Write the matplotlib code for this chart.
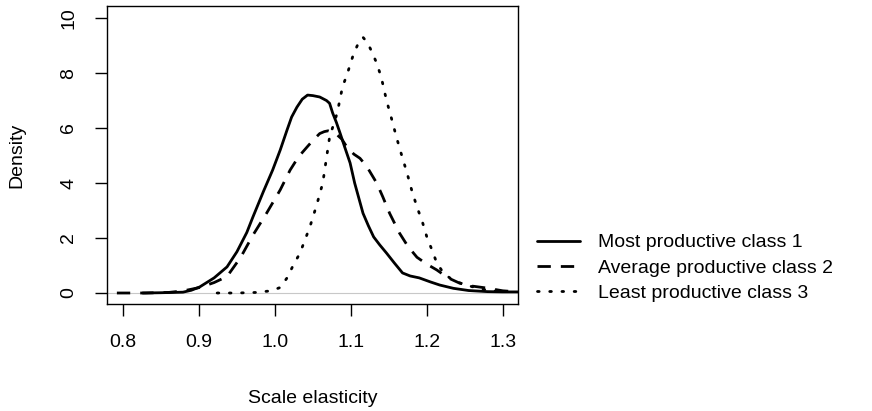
import matplotlib
matplotlib.use("Agg")
import matplotlib.pyplot as plt

plt.rcParams['font.family'] = ['Liberation Sans', 'DejaVu Sans']

# Class 1: most productive (solid)
x1 = [0.826, 0.85, 0.879, 0.89, 0.901, 0.92, 0.937, 0.95, 0.963, 0.971, 0.985, 0.997, 1.007,
      1.016, 1.022, 1.029, 1.036, 1.043, 1.05, 1.059, 1.068, 1.072, 1.076, 1.081, 1.086, 1.092,
      1.099, 1.105, 1.116, 1.123, 1.13, 1.138, 1.147, 1.157, 1.168, 1.178, 1.19, 1.205, 1.217,
      1.235, 1.255, 1.28, 1.3, 1.32]
y1 = [0.0, 0.01, 0.03, 0.1, 0.22, 0.55, 0.95, 1.5, 2.2, 2.76, 3.7, 4.47, 5.2,
      5.93, 6.4, 6.76, 7.05, 7.2, 7.18, 7.13, 7.0, 6.9, 6.55, 6.2, 5.8, 5.3,
      4.73, 4.0, 2.9, 2.45, 2.04, 1.75, 1.45, 1.1, 0.73, 0.62, 0.55, 0.4, 0.29,
      0.17, 0.09, 0.05, 0.04, 0.04]

# Class 2: average productive (dashed)
x2 = [0.792, 0.83, 0.86, 0.88, 0.901, 0.92, 0.937, 0.955, 0.971, 0.989, 1.007, 1.02,
      1.031, 1.042, 1.05, 1.059, 1.065, 1.07, 1.08, 1.088, 1.095, 1.104, 1.112, 1.121,
      1.134, 1.142, 1.151, 1.164, 1.175, 1.187, 1.2, 1.213, 1.228, 1.243, 1.26, 1.279,
      1.3, 1.32]
y2 = [0.0, 0.0, 0.02, 0.08, 0.2, 0.38, 0.6, 1.3, 2.1, 2.9, 3.75, 4.47,
      4.95, 5.3, 5.55, 5.8, 5.87, 5.9, 5.8, 5.6, 5.3, 5.05, 4.9, 4.6,
      4.0, 3.5, 2.9, 2.18, 1.7, 1.3, 1.05, 0.84, 0.55, 0.36, 0.25, 0.18,
      0.08, 0.04]

# Class 3: least productive (dotted)
x3 = [0.924, 0.95, 0.975, 0.995, 1.007, 1.016, 1.024, 1.033, 1.046, 1.055, 1.063, 1.072,
      1.082, 1.089, 1.095, 1.103, 1.11, 1.116, 1.122, 1.128, 1.134, 1.14, 1.147, 1.153,
      1.16, 1.167, 1.174, 1.18, 1.187, 1.194, 1.2, 1.207, 1.213, 1.222, 1.234, 1.248,
      1.261, 1.28, 1.3]
y3 = [0.0, 0.0, 0.02, 0.08, 0.2, 0.55, 1.0, 1.45, 2.4, 3.2, 4.0, 5.67,
      6.55, 7.5, 7.95, 8.65, 9.1, 9.3, 9.1, 8.75, 8.36, 7.85, 7.0, 6.4,
      5.67, 5.0, 4.36, 3.75, 3.13, 2.6, 2.04, 1.55, 1.1, 0.72, 0.47, 0.32,
      0.22, 0.1, 0.05]

labels = ["Most productive class 1", "Average productive class 2", "Least productive class 3"]
xticks = [0.8, 0.9, 1.0, 1.1, 1.2, 1.3]
yticks = [0, 2, 4, 6, 8, 10]

fs = 14

fig = plt.figure(figsize=(8.72, 4.11), dpi=100)
ax = fig.add_axes([107 / 872, (411 - 304) / 411, 411 / 872, 298 / 411])

ax.axhline(0, color='#c8c8c8', lw=0.8, zorder=1)
l1, = ax.plot(x1, y1, color='black', lw=2, ls='-', solid_capstyle='round', solid_joinstyle='round')
l2, = ax.plot(x2, y2, color='black', lw=2, ls=(0, (4.8, 3.6)))
l3, = ax.plot(x3, y3, color='black', lw=2, ls=(0, (0.6, 3.8)), dash_capstyle='round')

ax.set_xlim(0.779, 1.32)
ax.set_ylim(-0.4, 10.44)
ax.set_xticks(xticks)
ax.set_xticklabels([f"{t:.1f}" for t in xticks])
ax.set_yticks(yticks)
ax.set_yticklabels([str(t) for t in yticks], rotation=90, va='center')
ax.tick_params(direction='out', length=8.6, width=1, labelsize=fs, pad=13)
for s in ax.spines.values():
    s.set_linewidth(1)
ax.set_xlabel("Scale elasticity", fontsize=fs)
ax.set_ylabel("Density", fontsize=fs)
ax.xaxis.set_label_coords(0.5, (304 - 390) / 298)
ax.yaxis.set_label_coords((25 - 107) / 411, 0.5)

fig.legend([l1, l2, l3], labels, loc='center left', bbox_to_anchor=(537 / 872, (411 - 268) / 411),
           frameon=False, fontsize=fs, handlelength=2.2, handletextpad=0.95,
           labelspacing=0.4, borderaxespad=0, borderpad=0)

fig.savefig("out.png", dpi=100)
